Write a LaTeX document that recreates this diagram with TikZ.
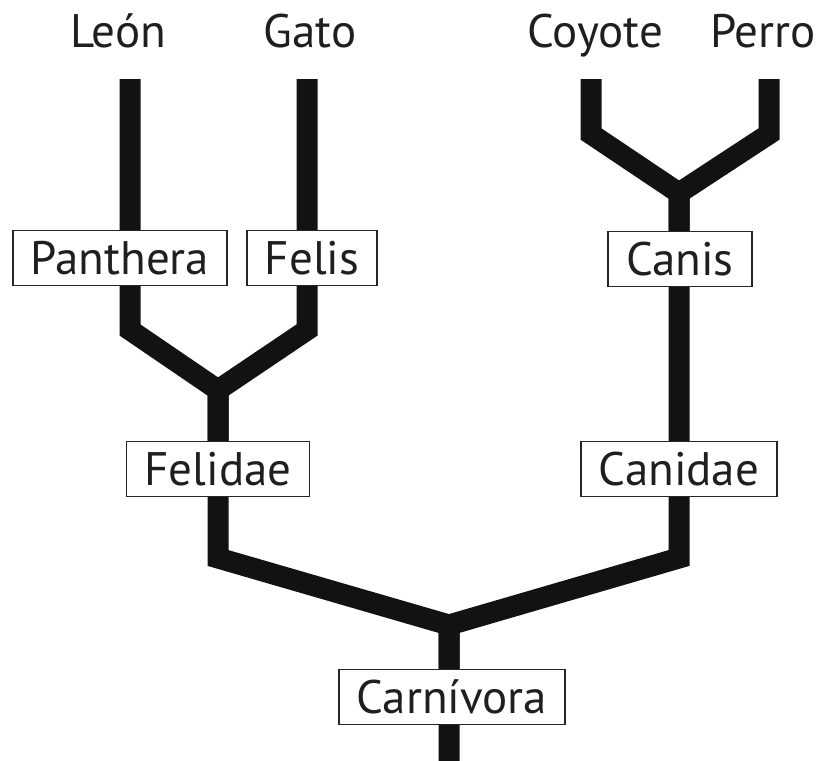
\documentclass[tikz,border=0pt]{standalone}
\usepackage{fontspec}
\setsansfont{PT Sans}
\usepackage{tikz}
\usetikzlibrary{backgrounds}

\begin{document}
\begin{tikzpicture}[
  x=1pt, y=-1pt,
  font=\sffamily\fontsize{47}{52}\selectfont,
  taxon/.style={draw=black!85, line width=1.8pt, fill=white, text=black!88,
                inner xsep=18pt, inner ysep=11pt, text height=33pt, text depth=0pt},
  species/.style={text=black!88, anchor=base},
  branch/.style={line width=21pt, draw=black!93, line join=miter, line cap=butt},
]
\useasboundingbox (0,0) rectangle (820,761);
% ---------------- species at the tips -----------------
\node[species] (leon)   at (118,47) {León};
\node[species] (gato)   at (310,47) {Gato};
\node[species] (coyote) at (595,47) {Coyote};
\node[species] (perro)  at (763,47) {Perro};
% ---------------- taxa -----------------
\node[taxon] (panthera)  at (120,258) {Panthera};
\node[taxon] (felis)     at (312,258) {Felis};
\node[taxon] (felidae)   at (218,469) {Felidae};
\node[taxon] (canis)     at (680,259) {Canis};
\node[taxon] (canidae)   at (679,469) {Canidae};
\node[taxon] (carnivora) at (452,697) {Carnívora};
% branch ends, bends and forks
\coordinate (leontip)   at (130,79);
\coordinate (gatotip)   at (307,79);
\coordinate (coyotetip) at (591,79);
\coordinate (perrotip)  at (769,79);
\coordinate (leonbend)  at (130,330);
\coordinate (gatobend)  at (307,330);
\coordinate (felfork)   at (218,390);
\coordinate (coyotebend) at (591,134);
\coordinate (perrobend) at (769,134);
\coordinate (canfork)   at (679,193);
\coordinate (felbend)   at (218,558);
\coordinate (canbend)   at (679,558);
\coordinate (carnfork)  at (449,625);
\coordinate (root)      at (449,761);
% ---------------- branches -----------------
\begin{scope}[on background layer]
  \draw[branch] (leontip) -- (leonbend) -- (felfork) -- (felfork |- felidae.north);
  \draw[branch] (gatotip) -- (gatobend) -- (felfork) -- (felbend) -- (carnfork) -- (root);
  \draw[branch] (coyotetip) -- (coyotebend) -- (canfork) -- (canfork |- canis.north);
  \draw[branch] (perrotip) -- (perrobend) -- (canfork) -- (canbend) -- (carnfork) -- (carnfork |- carnivora.north);
\end{scope}
\end{tikzpicture}
\end{document}
